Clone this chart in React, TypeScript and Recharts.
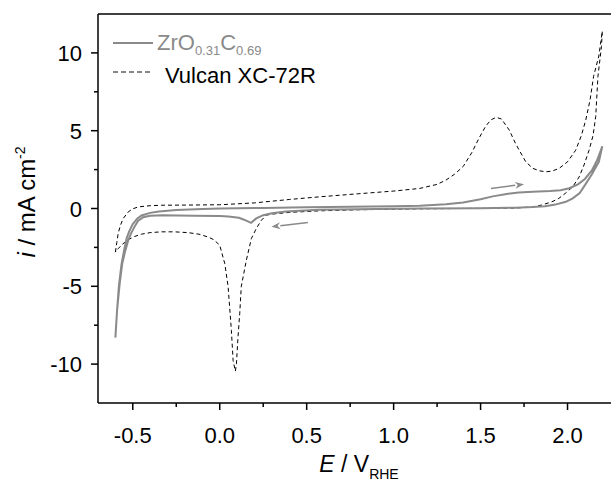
import React from 'react';
import {
  LineChart,
  Line,
  XAxis,
  YAxis,
  ReferenceLine,
  Legend,
  Label,
} from 'recharts';

// ZrO0.31C0.69, one full cycle starting at the cathodic vertex
const zrocE = [
  -0.6, -0.59, -0.58, -0.565, -0.55, -0.535, -0.52, -0.5, -0.475, -0.45, -0.4, -0.35, -0.25, -0.1, 0.0,
  0.25, 0.5, 0.75, 1.0, 1.15, 1.3, 1.4, 1.5, 1.57, 1.65, 1.72, 1.8, 1.9, 1.96, 2.01, 2.06, 2.1, 2.14,
  2.17, 2.2, 2.18, 2.14, 2.1, 2.07, 2.03, 1.99, 1.93, 1.87, 1.8, 1.7, 1.5, 1.15, 0.9, 0.57, 0.38, 0.3,
  0.25, 0.21, 0.18, 0.14, 0.11, 0.05, 0.0, -0.15, -0.33, -0.4, -0.44, -0.47, -0.49, -0.51, -0.526,
  -0.545, -0.56, -0.575, -0.59, -0.6,
];
const zrocI = [
  -8.3, -6.5, -5.0, -3.6, -2.7, -1.9, -1.45, -1.0, -0.65, -0.45, -0.28, -0.19, -0.1, -0.04, 0.0,
  0.04, 0.08, 0.11, 0.14, 0.17, 0.27, 0.38, 0.6, 0.78, 0.93, 1.03, 1.08, 1.12, 1.18, 1.3, 1.55, 1.9, 2.45,
  3.1, 4.0, 3.0, 2.2, 1.5, 1.0, 0.65, 0.43, 0.25, 0.15, 0.09, 0.05, 0.02, 0.0, -0.03, -0.08, -0.2, -0.3,
  -0.43, -0.64, -0.92, -0.72, -0.6, -0.52, -0.48, -0.46, -0.43, -0.46, -0.56, -0.8, -1.18, -1.6, -2.04,
  -2.8, -3.5, -4.8, -6.5, -8.3,
];

// Vulcan XC-72R, one full cycle starting at the cathodic vertex
const vulcanE = [
  -0.6, -0.592, -0.584, -0.57, -0.555, -0.526, -0.5, -0.469, -0.4, -0.335, -0.2, 0.0, 0.2, 0.4, 0.574,
  0.8, 1.0, 1.15, 1.25, 1.3, 1.35, 1.4, 1.45, 1.49, 1.53, 1.56, 1.59, 1.62, 1.665, 1.7, 1.722, 1.76, 1.8,
  1.84, 1.875, 1.91, 1.952, 2.0, 2.047, 2.08, 2.105, 2.13, 2.15, 2.18, 2.2, 2.195, 2.175, 2.162, 2.147,
  2.124, 2.095, 2.067, 2.03, 1.99, 1.95, 1.91, 1.85, 1.8, 1.7, 1.4, 1.148, 0.8, 0.574, 0.4, 0.3, 0.268,
  0.24, 0.21, 0.182, 0.153, 0.124, 0.115, 0.105, 0.096, 0.09, 0.077, 0.067, 0.057, 0.048, 0.029, 0.0,
  -0.035, -0.067, -0.12, -0.182, -0.26, -0.335, -0.4, -0.45, -0.49, -0.526, -0.56, -0.584, -0.6,
];
const vulcanI = [
  -2.8, -2.2, -1.6, -1.05, -0.64, -0.22, -0.02, 0.1, 0.18, 0.21, 0.22, 0.24, 0.36, 0.58, 0.75,
  0.95, 1.12, 1.29, 1.55, 1.82, 2.2, 2.7, 3.6, 4.5, 5.3, 5.7, 5.86, 5.75, 5.04, 4.2, 3.75, 3.0, 2.58,
  2.42, 2.36, 2.4, 2.58, 3.0, 3.75, 4.7, 5.69, 7.0, 8.5, 9.8, 11.4, 10.4, 8.5, 5.9, 4.7,
  3.75, 2.8, 2.03, 1.4, 1.0, 0.65, 0.43, 0.22, 0.1, 0.03, 0.0, -0.02, -0.08, -0.15, -0.25, -0.36, -0.43,
  -0.75, -1.29, -1.93, -3.33, -5.0, -6.76, -8.27, -9.98, -10.46, -9.77, -7.84, -6.34, -5.0, -3.54, -2.36,
  -2.0, -1.83, -1.65, -1.55, -1.5, -1.5, -1.55, -1.65, -1.8, -2.0, -2.3, -2.58, -2.8,
];

// scan direction arrows: [fromE, fromI, toE, toI]
const arrowForward = [1.56, 1.29, 1.75, 1.56];
const arrowBackward = [0.507, -0.9, 0.297, -1.18];

const xTicks = [-0.5, -0.25, 0, 0.25, 0.5, 0.75, 1.0, 1.25, 1.5, 1.75, 2.0];
const yTicks = [-10, -7.5, -5, -2.5, 0, 2.5, 5, 7.5, 10];

const FONT = '"Liberation Sans", Arial, sans-serif';
const GRAY = '#8a8a8a';

const zrocData = zrocE.map((E, k) => ({ E, i: zrocI[k] }));
const vulcanData = vulcanE.map((E, k) => ({ E, i: vulcanI[k] }));

const isMajor = (v: number) => Math.abs(v * 2 - Math.round(v * 2)) < 1e-6;
const isMajorY = (v: number) => Math.abs(v / 5 - Math.round(v / 5)) < 1e-6;

const fmtX = (v: number) => (v === 0 ? '0.0' : v.toFixed(1));

const XTick = (props: any) => {
  const { x, y, payload } = props;
  const major = isMajor(payload.value);
  return (
    <g>
      <line x1={x} x2={x} y1={y} y2={y + (major ? 7 : 4)} stroke="#000" strokeWidth={1.5} />
      {major && (
        <text x={x} y={y + 40} textAnchor="middle" fontSize={22} fontFamily={FONT} fill="#000">
          {fmtX(payload.value)}
        </text>
      )}
    </g>
  );
};

const YTick = (props: any) => {
  const { x, y, payload } = props;
  const major = isMajorY(payload.value);
  return (
    <g>
      <line x1={x} x2={x - (major ? 7 : 4)} y1={y} y2={y} stroke="#000" strokeWidth={1.5} />
      {major && (
        <text x={x - 16} y={y + 8} textAnchor="end" fontSize={22} fontFamily={FONT} fill="#000">
          {String(payload.value)}
        </text>
      )}
    </g>
  );
};

const ArrowShape = (props: any) => {
  const { x1, y1, x2, y2 } = props;
  const a = Math.atan2(y2 - y1, x2 - x1);
  const len = 9;
  const w = 3.5;
  const bx = x2 - len * Math.cos(a);
  const by = y2 - len * Math.sin(a);
  const px = -Math.sin(a) * w;
  const py = Math.cos(a) * w;
  return (
    <g>
      <line x1={x1} y1={y1} x2={bx} y2={by} stroke={GRAY} strokeWidth={1.5} />
      <polygon
        points={`${x2},${y2} ${bx + px},${by + py} ${bx + len * 0.3 * Math.cos(a)},${by + len * 0.3 * Math.sin(a)} ${bx - px},${by - py}`}
        fill={GRAY}
      />
    </g>
  );
};

const LegendBox = () => (
  <svg width={230} height={64} style={{ display: 'block' }}>
    <line x1={5} x2={45} y1={17} y2={17} stroke={GRAY} strokeWidth={2} />
    <text x={49} y={24} fontSize={22} fontFamily={FONT} fill={GRAY}>
      ZrO
      <tspan fontSize={13} dy={5}>0.31</tspan>
      <tspan fontSize={22} dy={-5}>C</tspan>
      <tspan fontSize={13} dy={5}>0.69</tspan>
    </text>
    <line x1={5} x2={45} y1={46} y2={46} stroke="#111" strokeWidth={1} strokeDasharray="5 3" />
    <text x={57} y={57} fontSize={22} fontFamily={FONT} fill="#000">
      Vulcan XC-72R
    </text>
  </svg>
);

export default function App() {
  return (
    <div style={{ position: 'absolute', left: 0, top: 0, background: '#fff' }}>
      <LineChart width={611} height={482} margin={{ top: 14, right: 0, bottom: 0, left: 0 }}>
        <XAxis
          type="number"
          dataKey="E"
          domain={[-0.7, 2.25]}
          allowDataOverflow
          ticks={xTicks}
          interval={0}
          tick={<XTick />}
          tickLine={false}
          tickSize={0}
          tickMargin={0}
          height={79}
          axisLine={{ stroke: '#000', strokeWidth: 1.5 }}
        >
          <Label
            content={() => (
              <text x={359} y={472} textAnchor="middle" fontSize={23} fontFamily={FONT} fill="#000">
                <tspan fontStyle="italic">E</tspan>
                <tspan> / V</tspan>
                <tspan fontSize={14} dy={7}>RHE</tspan>
              </text>
            )}
          />
        </XAxis>
        <YAxis
          type="number"
          domain={[-12.5, 12.5]}
          allowDataOverflow
          ticks={yTicks}
          interval={0}
          tick={<YTick />}
          tickLine={false}
          tickSize={0}
          tickMargin={0}
          width={98}
          axisLine={{ stroke: '#000', strokeWidth: 1.5 }}
        >
          <Label
            content={() => (
              <text
                x={35}
                y={202}
                textAnchor="middle"
                fontSize={24}
                fontFamily={FONT}
                fill="#000"
                transform="rotate(-90, 35, 202)"
              >
                <tspan fontStyle="italic">i</tspan>
                <tspan> / mA cm</tspan>
                <tspan fontSize={14} dy={-10}>-2</tspan>
              </text>
            )}
          />
        </YAxis>
        <ReferenceLine y={12.5} stroke="#000" strokeWidth={1.5} />
        <Line
          data={vulcanData}
          dataKey="i"
          type="linear"
          stroke="#000"
          strokeWidth={1}
          strokeDasharray="4 3"
          dot={false}
          isAnimationActive={false}
        />
        <Line
          data={zrocData}
          dataKey="i"
          type="linear"
          stroke={GRAY}
          strokeWidth={2}
          dot={false}
          isAnimationActive={false}
        />
        <ReferenceLine
          segment={[
            { x: arrowForward[0], y: arrowForward[1] },
            { x: arrowForward[2], y: arrowForward[3] },
          ]}
          shape={<ArrowShape />}
        />
        <ReferenceLine
          segment={[
            { x: arrowBackward[0], y: arrowBackward[1] },
            { x: arrowBackward[2], y: arrowBackward[3] },
          ]}
          shape={<ArrowShape />}
        />
        <Legend
          layout="vertical"
          align="center"
          verticalAlign="middle"
          wrapperStyle={{ top: 26, left: 108, width: 'auto' }}
          content={<LegendBox />}
        />
      </LineChart>
    </div>
  );
}
